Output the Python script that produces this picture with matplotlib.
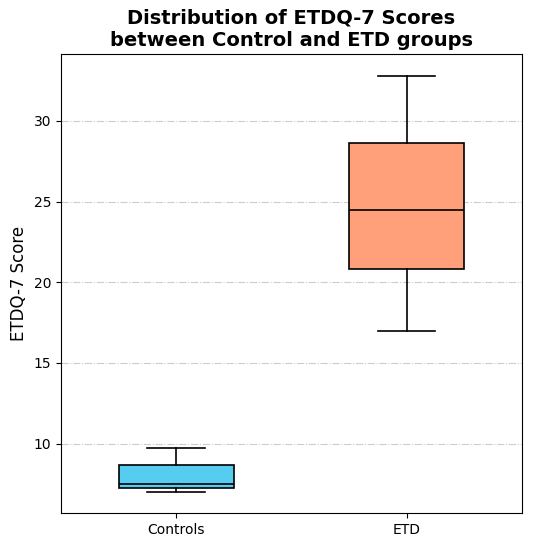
import matplotlib
matplotlib.use("Agg")
import matplotlib.pyplot as plt

# box statistics
groups = ["Controls", "ETD"]
whisker_low = [7.0, 17.0]
q1 = [7.25, 20.8]
medians = [7.5, 24.5]
q3 = [8.65, 28.65]
whisker_high = [9.75, 32.8]
colors = ["#56CCF0", "#FFA07A"]

stats = []
for i, name in enumerate(groups):
    stats.append({
        "label": name,
        "whislo": whisker_low[i],
        "q1": q1[i],
        "med": medians[i],
        "q3": q3[i],
        "whishi": whisker_high[i],
        "fliers": [],
    })

fig = plt.figure(figsize=(5.33, 5.43), dpi=100)
ax = fig.add_axes([0.1144, 0.0552, 0.8646, 0.8454])

bp = ax.bxp(stats, positions=[1, 2], widths=0.5, patch_artist=True,
            showfliers=False,
            medianprops=dict(color="black", linewidth=1.2),
            boxprops=dict(edgecolor="black", linewidth=1.2),
            whiskerprops=dict(color="black", linewidth=1.2),
            capprops=dict(color="black", linewidth=1.2))
for patch, c in zip(bp["boxes"], colors):
    patch.set_facecolor(c)

ax.set_xlim(0.5, 2.5)
ax.set_ylim(5.7, 34.15)
ax.set_yticks([10, 15, 20, 25, 30])
ax.yaxis.grid(True, linestyle="-.", color="#cccccc", linewidth=0.8)
ax.set_axisbelow(True)
ax.set_ylabel("ETDQ-7 Score", fontsize=12)
ax.set_title("Distribution of ETDQ-7 Scores\nbetween Control and ETD groups",
             fontsize=14, fontweight="bold")

fig.savefig("out.png", dpi=100)
